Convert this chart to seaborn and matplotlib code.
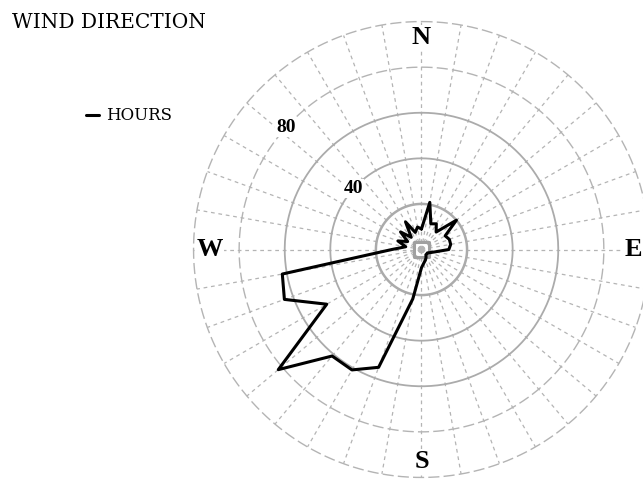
import matplotlib
matplotlib.use("Agg")
import matplotlib.pyplot as plt
import numpy as np
import seaborn as sns

# Datos: horas por direccion (cada 10 grados, desde el norte en sentido horario)
direcciones = list(range(0, 360, 10))
horas = [9, 21, 12, 13, 10, 20, 12, 13, 13, 12, 6, 4, 3, 3, 3, 4, 5, 6,
         8, 22, 55, 61, 61, 82, 48, 64, 62, 13, 7, 11, 7, 12, 7, 14, 8, 10]
anillos = [20, 40, 60, 80, 100]
etiquetas_radio = [40, 80]
puntos_cardinales = ["N", "E", "S", "W"]
angulos_cardinales = [0, 90, 180, 270]

sns.set_style("white")
plt.rcParams["font.family"] = ["DejaVu Serif", "DejaVu Sans"]
plt.rcParams["text.color"] = "black"

fig = plt.figure(figsize=(6.43, 4.80), dpi=100)
ax = fig.add_axes([0.301, 0.0052, 0.709, 0.95], projection="polar")
ax.set_theta_zero_location("N")
ax.set_theta_direction(-1)
ax.set_ylim(0, 100)
ax.set_facecolor("none")
ax.spines["polar"].set_visible(False)
ax.set_yticks([])
ax.set_xticks(np.deg2rad(np.arange(0, 360, 10)))
ax.set_xticklabels([])
ax.xaxis.grid(True, color="#b4b4b4", linestyle=(0, (3, 3)), linewidth=0.9)

# Anillos de la grilla
t = np.linspace(0, 2 * np.pi, 400)
for r in anillos:
    if r <= 60:
        ax.plot(t, np.full_like(t, r), color="#ababab", lw=1.8 if r == 20 else 1.3,
                zorder=1, clip_on=False)
    else:
        ax.plot(t, np.full_like(t, r), color="#b4b4b4", lw=1.0,
                linestyle=(0, (8, 3)), zorder=1, clip_on=False)

# Marca central
ax.scatter([0], [0], marker="s", s=120, facecolor="none", edgecolor="#a0a0a0",
           linewidth=2.2, zorder=2)

# Linea de horas (cerrada)
theta = np.deg2rad(direcciones + [direcciones[0] + 360])
valores = horas + [horas[0]]
sns.lineplot(x=theta, y=valores, ax=ax, sort=False, estimator=None,
             color="black", linewidth=2.2, label="HOURS", zorder=3)

for txt, ang in zip(puntos_cardinales, angulos_cardinales):
    ax.text(np.deg2rad(ang), 93, txt, ha="center", va="center", fontsize=19,
            fontweight="bold", family="Liberation Serif", color="black", zorder=4,
            bbox=dict(facecolor="white", edgecolor="none", pad=1))

for v in etiquetas_radio:
    ax.text(np.deg2rad(312), v, str(v), ha="center", va="center", fontsize=14,
            fontweight="bold", family="Liberation Serif", color="black", zorder=4,
            bbox=dict(facecolor="white", edgecolor="none", pad=0.5))

fig.text(12 / 643, 1 - 22 / 480, "WIND DIRECTION", ha="left", va="center",
         fontsize=14.5, family="DejaVu Serif", color="black")

ax.legend(loc="center left", bbox_to_anchor=(86 / 643, 1 - 116 / 480),
          bbox_transform=fig.transFigure, frameon=False, handlelength=0.8,
          handletextpad=0.4, borderpad=0, borderaxespad=0,
          prop={"family": "DejaVu Serif", "size": 12})

fig.savefig("out.png", dpi=100)
